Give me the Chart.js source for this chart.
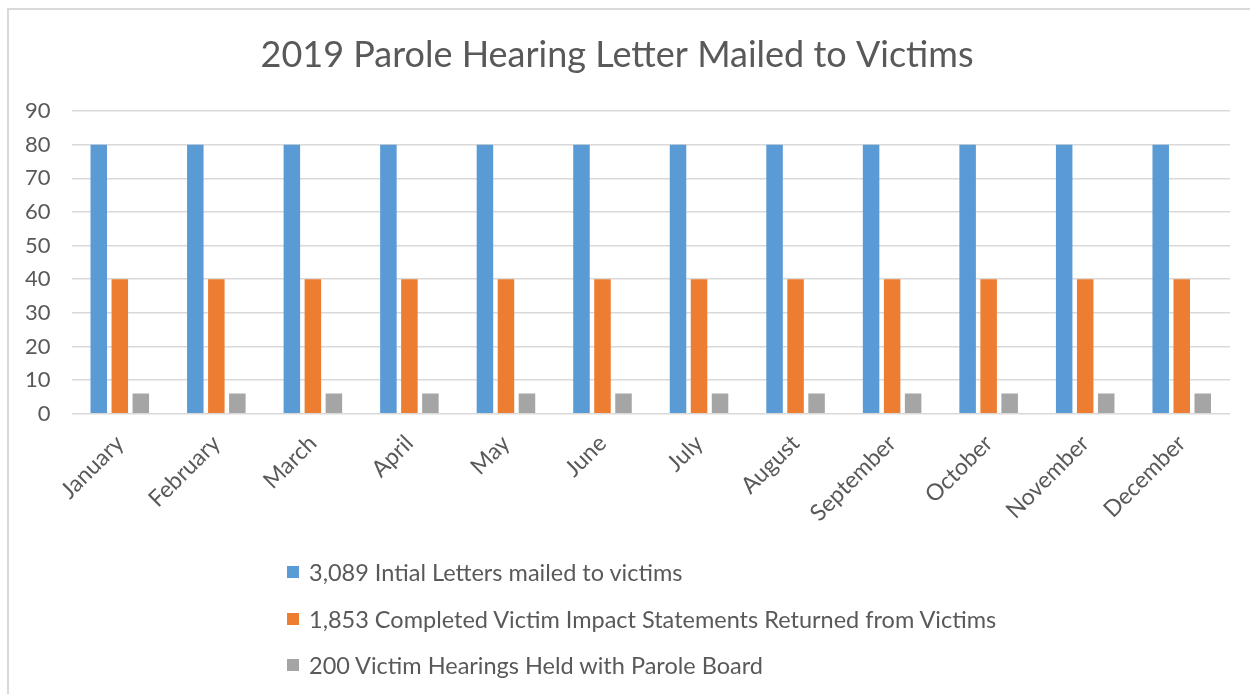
<!DOCTYPE html>
<html>
<head>
<meta charset="utf-8">
<script src="https://cdn.jsdelivr.net/npm/chart.js@4/dist/chart.umd.min.js"></script>
<style>
  html, body { margin: 0; padding: 0; width: 1250px; height: 694px; overflow: hidden; background: #fff; }
  #frame { position: absolute; left: 7px; top: 8px; width: 2000px; height: 2000px; border: 2px solid #d9d9d9; box-sizing: border-box; }
  #wrap { position: absolute; left: 0; top: 0; width: 1250px; height: 694px; }
  #legend { position: absolute; left: 287px; top: 549px; font-family: Lato, "Open Sans", sans-serif; font-size: 23.5px; color: #595959; }
  #legend .row { height: 46.5px; display: flex; align-items: center; }
  #legend .box { width: 12px; height: 12px; margin-right: 10px; flex: none; }
</style>
</head>
<body>
<div id="frame"></div>
<div id="wrap"><canvas id="c" width="1250" height="694"></canvas></div>
<div id="legend"></div>
<script>
const titleText = "2019 Parole Hearing Letter Mailed to Victims";
const months = ["January","February","March","April","May","June","July","August","September","October","November","December"];
const seriesNames = [
  "3,089 Intial Letters mailed to victims",
  "1,853 Completed Victim Impact Statements Returned from Victims",
  "200 Victim Hearings Held with Parole Board"
];
const initialLetters = [80,80,80,80,80,80,80,80,80,80,80,80];
const completedStatements = [40,40,40,40,40,40,40,40,40,40,40,40];
const hearingsHeld = [6,6,6,6,6,6,6,6,6,6,6,6];
const yMin = 0, yMax = 90, yStep = 10;
const colors = ["#5b9bd5", "#ed7d31", "#a5a5a5"];

const textColor = "#595959";
const fontFamily = "Lato, 'Open Sans', sans-serif";

const datasets = [initialLetters, completedStatements, hearingsHeld].map((d, i) => ({
  label: seriesNames[i],
  data: d,
  backgroundColor: colors[i],
  borderWidth: 0,
  categoryPercentage: 0.653,
  barPercentage: 0.786
}));

const chart = new Chart(document.getElementById("c"), {
  type: "bar",
  data: { labels: months, datasets },
  options: {
    responsive: false,
    animation: false,
    layout: { padding: { left: 4, right: 20, top: 0, bottom: 159 } },
    plugins: {
      legend: { display: false },
      tooltip: { enabled: false },
      title: {
        display: true,
        text: titleText,
        color: textColor,
        font: { family: fontFamily, size: 36, weight: "normal" },
        padding: { top: 33.4, bottom: 34.4 }
      }
    },
    scales: {
      x: {
        grid: { display: false },
        border: { display: false },
        ticks: {
          color: textColor,
          font: { family: fontFamily, size: 23 },
          minRotation: 45,
          maxRotation: 45,
          padding: 8,
          autoSkip: false
        }
      },
      y: {
        min: yMin,
        max: yMax,
        grid: { color: "#d9d9d9", lineWidth: 1.5, drawTicks: false },
        border: { display: false },
        ticks: {
          stepSize: yStep,
          color: textColor,
          font: { family: fontFamily, size: 22 },
          padding: 21
        }
      }
    }
  }
});

const legendEl = document.getElementById("legend");
datasets.forEach(ds => {
  const row = document.createElement("div");
  row.className = "row";
  const box = document.createElement("span");
  box.className = "box";
  box.style.background = ds.backgroundColor;
  const txt = document.createElement("span");
  txt.textContent = ds.label;
  row.appendChild(box);
  row.appendChild(txt);
  legendEl.appendChild(row);
});
</script>
</body>
</html>
